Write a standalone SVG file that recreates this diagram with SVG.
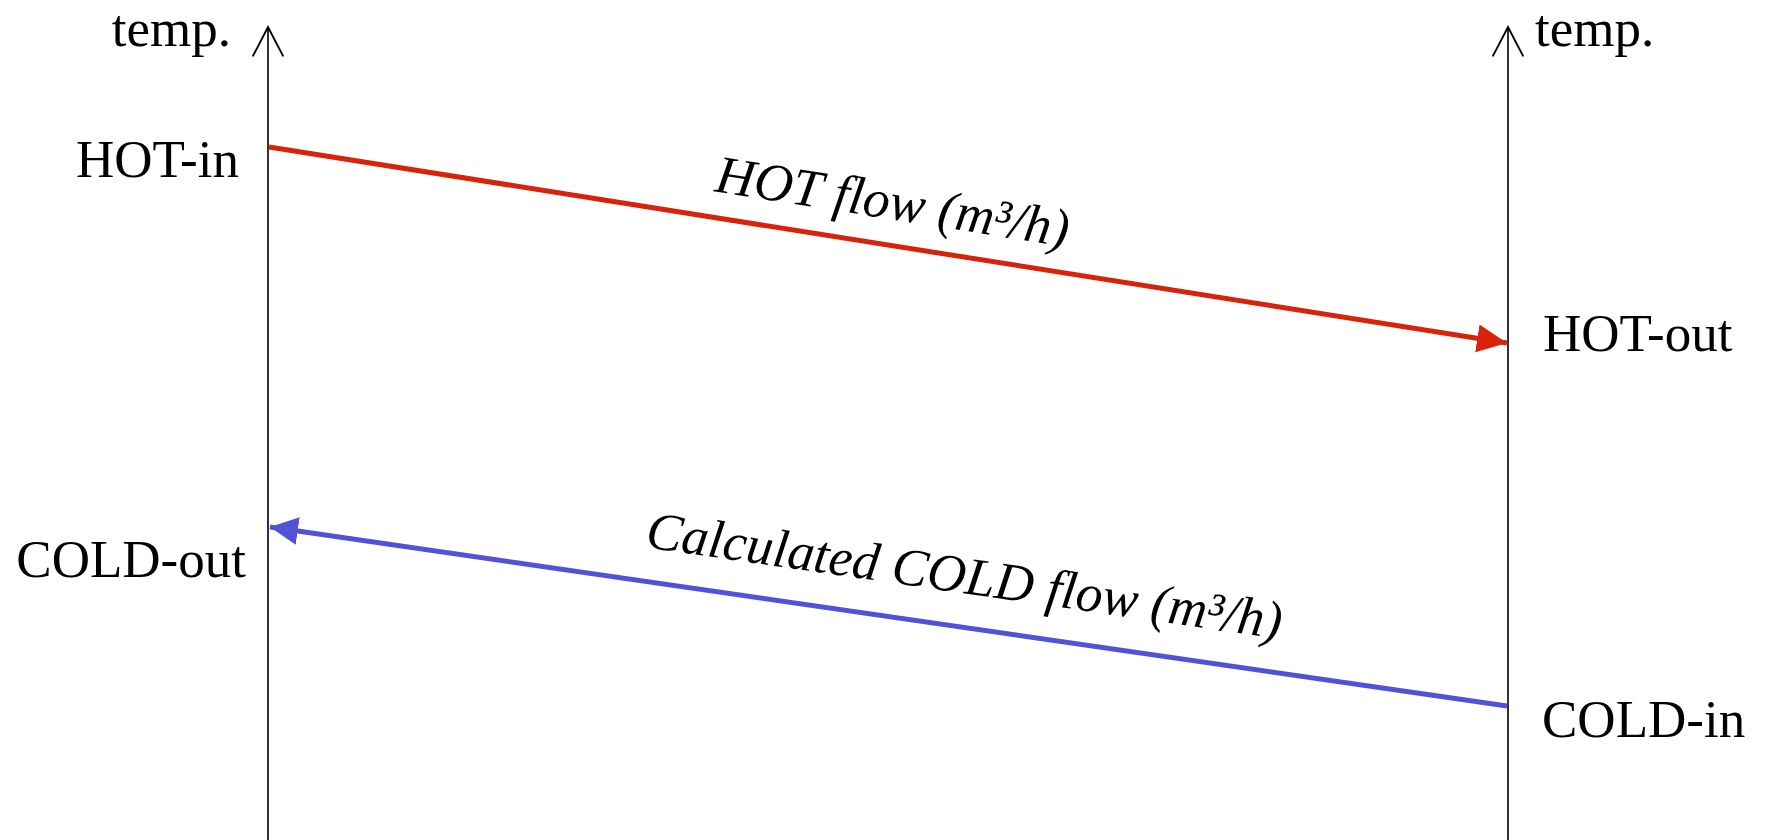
<svg xmlns="http://www.w3.org/2000/svg" width="1765" height="840" viewBox="0 0 1765 840">
<style>
.lbl{font-family:"Liberation Serif","Times New Roman",serif;font-size:53px;fill:#000}
.it{font-family:"Liberation Serif","Times New Roman",serif;font-size:53.5px;font-style:italic;fill:#000}
.axis{stroke:#000;stroke-width:1.6;fill:none}
.hot{stroke:#d8220a;stroke-width:5;fill:none}
.cold{stroke:#5252d8;stroke-width:5;fill:none}
</style>
<defs>
<marker id="openArrow" markerUnits="userSpaceOnUse" markerWidth="40" markerHeight="40" viewBox="-2 -2 34 34" refX="28" refY="14" orient="auto">
<polyline points="3,1 28,14 3,27" fill="none" stroke="#000" stroke-width="1.6"/>
</marker>
<marker id="redArrow" markerUnits="userSpaceOnUse" markerWidth="32" markerHeight="30" viewBox="0 0 32 30" refX="30" refY="15" orient="auto">
<path d="M0,1 L30,15 L0,29 Z" fill="#d8220a"/>
</marker>
<marker id="blueArrow" markerUnits="userSpaceOnUse" markerWidth="32" markerHeight="30" viewBox="0 0 32 30" refX="28" refY="15" orient="auto">
<path d="M0,1 L28,15 L0,29 Z" fill="#5252d8"/>
</marker>
</defs>
<rect width="1765" height="840" fill="#fff"/>
<g id="axes">
<line class="axis" x1="268" y1="840" x2="268" y2="27" marker-end="url(#openArrow)"/>
<line class="axis" x1="1508" y1="840" x2="1508" y2="27" marker-end="url(#openArrow)"/>
</g>
<g id="connectors">
<line class="hot" x1="269" y1="147" x2="1507" y2="343" marker-end="url(#redArrow)"/>
<line class="cold" x1="1507" y1="706" x2="270" y2="527" marker-end="url(#blueArrow)"/>
<text class="it" text-anchor="middle" transform="translate(890,219) rotate(8.98)">HOT flow (m³/h)</text>
<text class="it" text-anchor="middle" transform="translate(962,593) rotate(8.22)">Calculated COLD flow (m³/h)</text>
</g>
<g id="temp-left"><text class="lbl" x="231" y="46" text-anchor="end">temp.</text></g>
<g id="temp-right"><text class="lbl" x="1535" y="46">temp.</text></g>
<g id="hot-in"><text class="lbl" x="239" y="177" text-anchor="end">HOT-in</text></g>
<g id="hot-out"><text class="lbl" x="1543" y="351">HOT-out</text></g>
<g id="cold-out"><text class="lbl" x="246" y="577" text-anchor="end">COLD-out</text></g>
<g id="cold-in"><text class="lbl" x="1542" y="737">COLD-in</text></g>
</svg>
